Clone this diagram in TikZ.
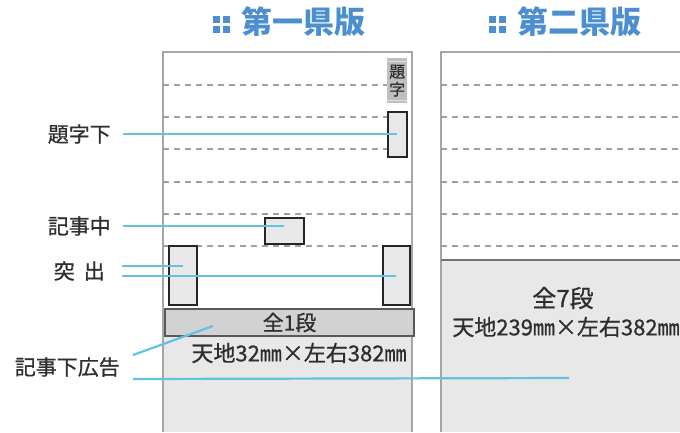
\documentclass[tikz,border=0pt]{standalone}
\usepackage{fontspec}
\setmainfont{Noto Sans CJK JP}
\newfontfamily\jpheavy{Noto Sans CJK JP}[FakeBold=0.8]
\usetikzlibrary{positioning,calc}

\definecolor{titleblue}{HTML}{4B8FD0}
\definecolor{leadblue}{HTML}{62C2E0}
\definecolor{pagegray}{HTML}{E8E8E8}
\definecolor{bargray}{HTML}{D2D2D2}
\definecolor{textgray}{HTML}{2E2E2E}

\newcommand{\sqmark}{\raisebox{1pt}{\vbox{\offinterlineskip\hbox{\rule{7pt}{7pt}\kern3pt\rule{7pt}{7pt}}\kern3pt\hbox{\rule{7pt}{7pt}\kern3pt\rule{7pt}{7pt}}}}\hspace{12pt}}

\tikzset{
  pagetitle/.style={text=titleblue, font=\fontsize{31}{31}\selectfont\bfseries},
  pageedge/.style={draw=gray!70, line width=2.2pt},
  dashrule/.style={draw=gray!75, line width=1.7pt, dash pattern=on 6pt off 5pt},
  adbox/.style={draw=black!85, fill=pagegray, line width=1.6pt, inner sep=0pt, anchor=north west},
  lbl/.style={text=textgray, font=\fontsize{21}{21}\jpheavy, anchor=east, inner xsep=12pt, inner ysep=0pt},
  sizetext/.style={text=textgray, font=\fontsize{22}{22}\jpheavy},
  lead/.style={draw=leadblue, line width=2.2pt},
}

\begin{document}
\begin{tikzpicture}[x=1pt,y=-1pt]
    \clip (0,0) rectangle (680,432);

    % titles
    \node [pagetitle] (ttl1) at (289,22) {\sqmark 第一県版};
    \node [pagetitle] (ttl2) at (565,22) {\sqmark 第二県版};

    % 第一県版
    \fill [pagegray] (163,335) rectangle (412,432);
    \draw [pageedge] (163,432) -- (163,52) -- (412,52) -- (412,432);
    \foreach \y in {85,117,149}
        \draw [dashrule] (163,\y) -- (387,\y);
    \foreach \y in {182,214,246}
        \draw [dashrule] (163,\y) -- (412,\y);

    \node [fill=gray!50, minimum width=20, minimum height=45, inner sep=0pt, anchor=north west,
           text=textgray, font=\fontsize{16}{17}\jpheavy] (daiji) at (387,58) {\shortstack{題\\字}};
    \draw [gray!25, line width=0.8pt] (daiji.north west) ++(0,3) -- ++(20,0);
    \draw [gray!25, line width=0.8pt] (daiji.south west) ++(0,-3) -- ++(20,0);

    \node [adbox, minimum width=19, minimum height=45] (daijishita) at (387,111) {};
    \node [adbox, minimum width=39, minimum height=26] (kijinaka) at (264,217) {};
    \node [adbox, minimum width=28, minimum height=59] (tossL) at (168,245) {};
    \node [adbox, minimum width=27, minimum height=59] (tossR) at (382,245) {};

    \node [draw=black!65, fill=bargray, line width=2pt, minimum width=249, minimum height=27,
           inner sep=0pt, anchor=north west, text=textgray, font=\fontsize{21}{21}\jpheavy] (zen1) at (164,308) {全1段};
    \node [sizetext] (size1) at (299,353) {天地32㎜×左右382㎜};

    % 第二県版
    \fill [pagegray] (441,260) rectangle (690,432);
    \draw [pageedge] (441,432) -- (441,52) -- (690,52);
    \foreach \y in {85,117,149,182,214,246}
        \draw [dashrule] (441,\y) -- (690,\y);
    \draw [draw=black!55, line width=2.5pt] (441,260) -- (690,260);
    \node [text=textgray, font=\fontsize{24}{24}\jpheavy] (zen7) at (563,298) {全7段};
    \node [sizetext] (size7) at (566,327) {天地239㎜×左右382㎜};

    % labels
    \node [lbl] (lblDaiji) at (123,134) {題字下};
    \node [lbl] (lblKiji) at (123,226) {記事中};
    \node [lbl, inner xsep=17pt] (lblToss) at (122,271) {突\hspace{9pt}出};
    \node [lbl, inner xsep=13pt] (lblAd) at (133,367) {記事下広告};

    \coordinate (adEnd1) at (213,326);
    \coordinate (adEnd7) at (569,378);

    % leader lines
    \draw [lead] (lblDaiji.east) -- (lblDaiji.east -| daijishita.center);
    \draw [lead] (lblKiji.east) -- (lblKiji.east -| kijinaka.center);
    \draw [lead] ($(lblToss.east)+(0,-5)$) -- ($(lblToss.east -| tossL.center)+(0,-5)$);
    \draw [lead] ($(lblToss.east)+(0,5)$) -- ($(lblToss.east -| tossR.center)+(0,5)$);
    \draw [lead] ($(lblAd.east)+(0,-12)$) -- (adEnd1);
    \draw [lead] ($(lblAd.east)+(0,12)$) -- (adEnd7);
\end{tikzpicture}
\end{document}
